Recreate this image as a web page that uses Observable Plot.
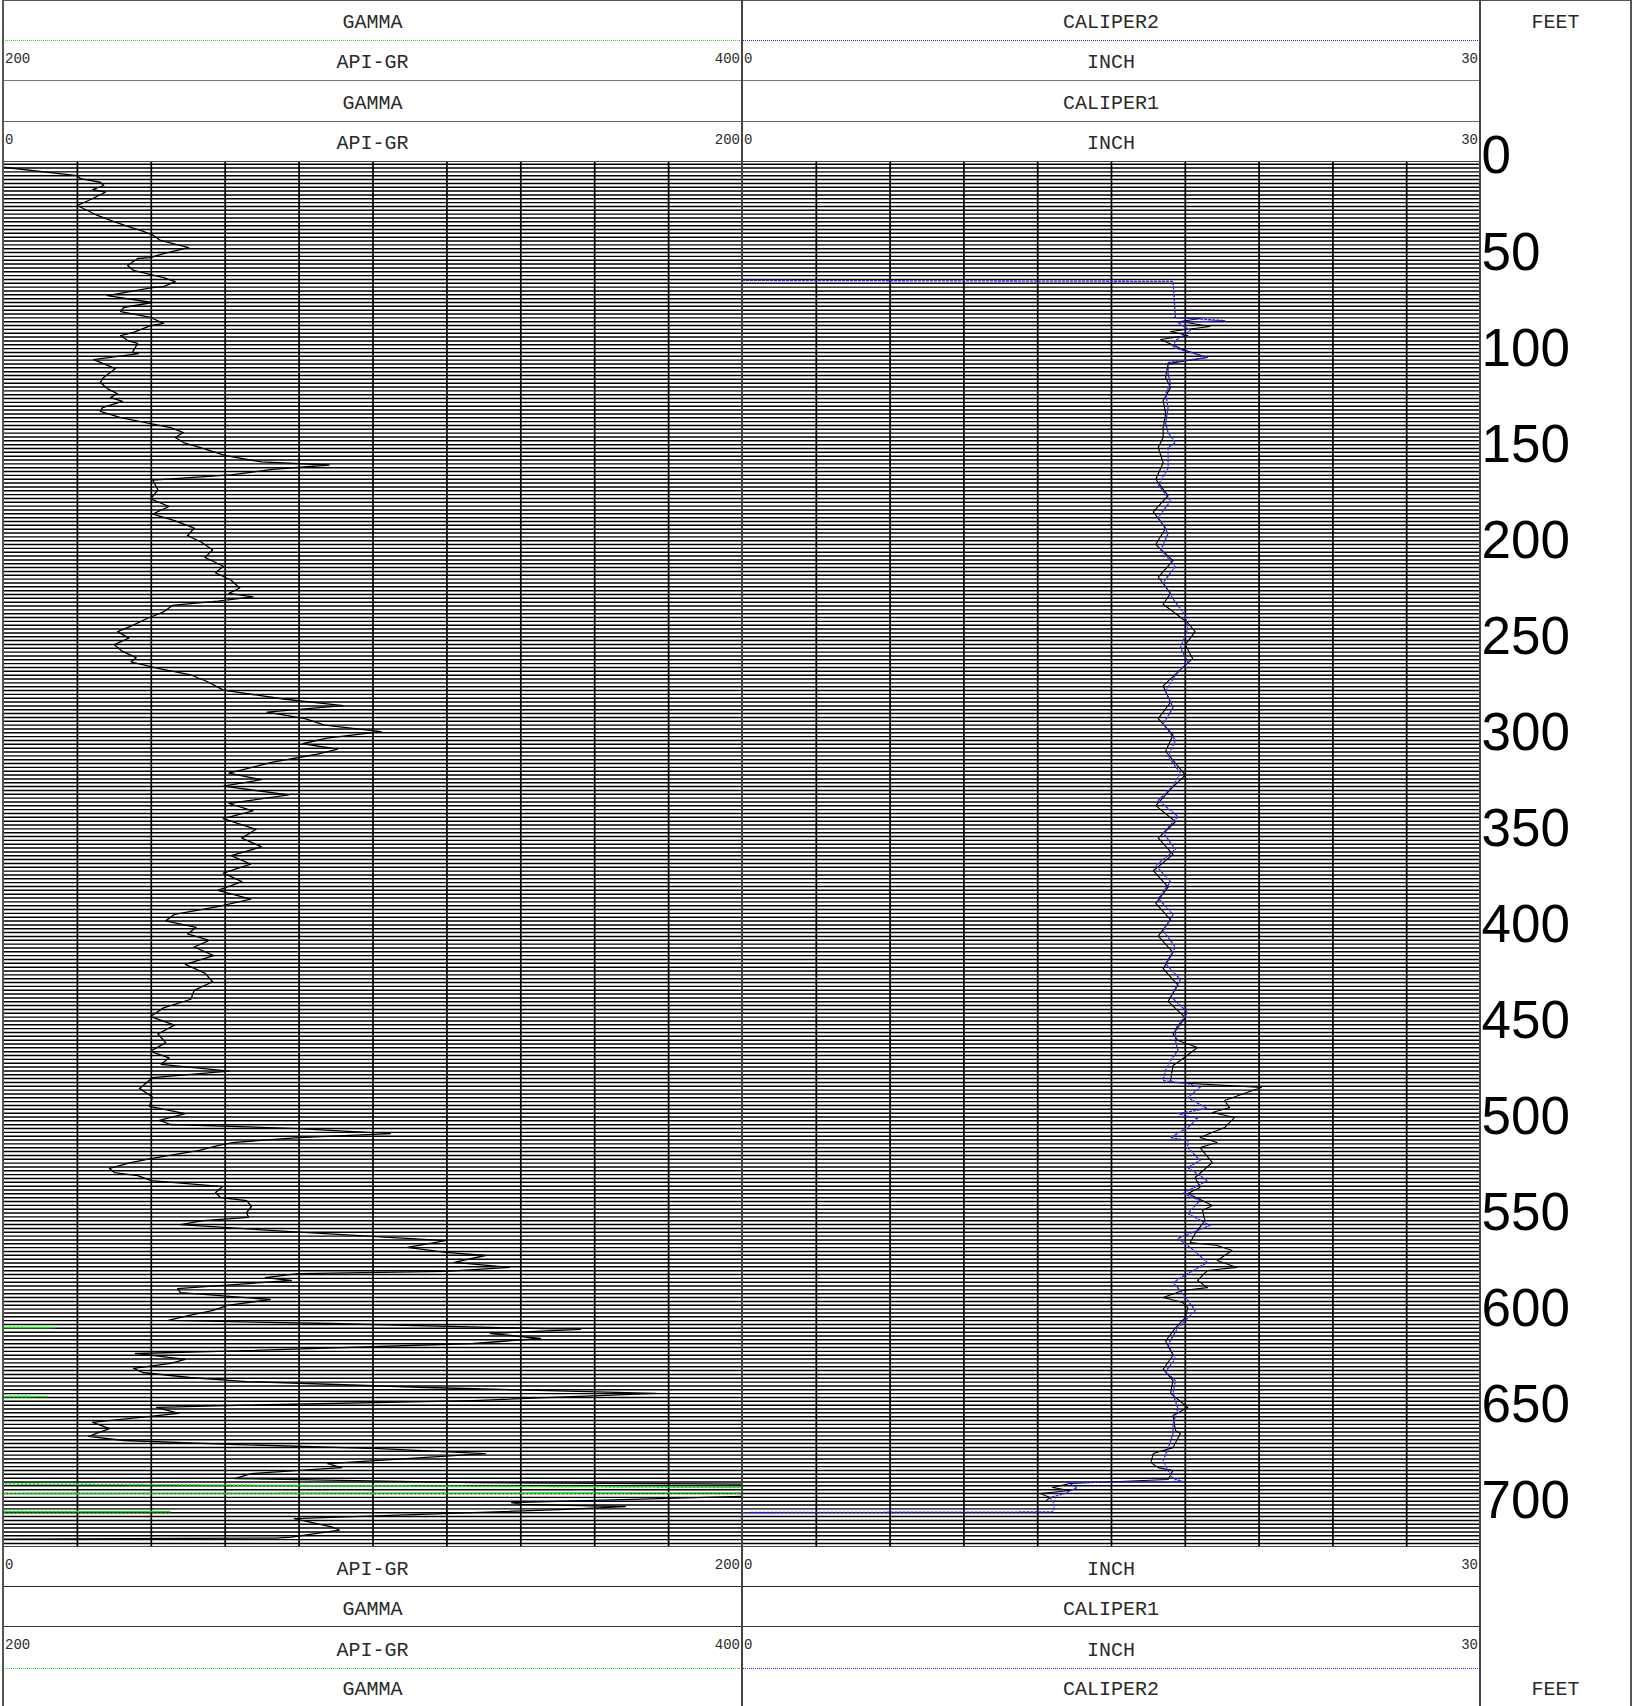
<!DOCTYPE html>
<html><head><meta charset="utf-8">
<script src="https://cdn.jsdelivr.net/npm/d3@7"></script>
<script src="https://cdn.jsdelivr.net/npm/@observablehq/plot@0.6"></script>
<style>
html,body{margin:0;padding:0;background:#fff;overflow:hidden;}
#root{position:relative;width:1632px;height:1706px;overflow:hidden;background:#fff;}
.plot{position:absolute;}
.ln{position:absolute;}
.name{position:absolute;font-family:"Liberation Mono","Courier New",monospace;font-size:20px;color:#2a2a2a;text-align:center;white-space:nowrap;}
.small{position:absolute;font-family:"Liberation Mono","Courier New",monospace;font-size:14px;color:#2a2a2a;white-space:nowrap;}
</style></head><body><div id="root"></div>
<script>
// ---------- data ----------
const depthTicks = [0,50,100,150,200,250,300,350,400,450,500,550,600,650,700];

const gammaDepth = [5.6,9.9,11.5,13.4,15.1,17.2,18.6,22.9,25.5,30.7,33.3,36.4,38.5,41.1,43.7,47.4,50.5,52.6,53.1,56.7,59.3,63.0,65.1,67.7,68.2,72.4,76.0,78.6,80.7,83.8,86.9,88.0,91.6,93.2,95.8,97.3,102.0,102.6,105.7,110.4,115.0,117.6,120.8,123.4,125.5,127.5,130.7,132.7,135.9,139.0,141.1,143.7,146.3,148.9,151.5,155.7,159.0,160.6,162.9,165.7,168.5,173.6,178.2,182.2,186.1,189.5,193.5,197.4,200.8,204.8,208.7,213.3,216.7,220.6,224.6,227.4,229.2,231.4,233.7,237.1,240.5,244.5,247.3,250.7,254.1,257.5,260.9,263.1,266.5,269.9,273.3,277.8,282.4,285.8,289.2,292.6,296.0,299.4,302.8,305.7,308.5,311.3,315.3,321.0,324.4,327.8,332.3,336.8,340.7,344.7,350.3,354.8,359.4,363.9,368.4,373.0,377.5,382.0,386.6,390.5,394.5,397.9,401.3,404.7,408.1,411.5,416.0,420.5,425.1,429.6,434.1,438.7,443.2,447.7,452.2,456.8,461.3,465.8,469.2,472.6,476.1,479.5,485.1,489.7,492.5,494.5,498.2,501.8,503.9,506.0,508.6,510.7,513.3,514.8,517.4,521.1,523.7,526.8,528.9,530.5,533.1,536.2,539.3,541.9,543.5,546.6,549.7,552.3,553.9,556.0,560.1,564.3,567.9,570.5,572.1,575.7,578.3,580.4,581.5,583.6,585.1,587.7,589.3,591.4,595.0,598.1,600.7,603.3,605.9,607.5,610.6,612.7,615.3,617.9,621.6,623.1,626.2,628.3,630.9,633.0,635.6,637.7,640.8,643.9,647.6,650.2,651.2,654.3,659.0,662.2,666.3,668.4,670.5,672.6,675.2,680.4,682.5,685.6,688.2,690.3,691.2,693.5,695.5,697.2,700.7,701.7,702.8,704.4,709.1,713.4,715.0,718.7,719.2,719.7];
const gammaValue = [0,19.9,20.8,26.2,27.1,24.1,27.6,23.0,20.0,25.4,29.0,33.6,37.1,40.6,42.5,50.1,43.3,39.8,36.3,33.6,35.2,43.3,46.5,43.3,40.3,28.1,40.3,32.5,31.7,39.8,43.3,39.8,35.2,31.7,33.6,36.3,34.9,36.5,24.4,30.3,27.1,26.2,28.1,30.8,29.0,32.2,26.8,26.2,31.7,39.8,45.2,48.7,46.5,48.7,53.3,60.1,69.8,88.1,72.8,61.6,40.4,41.8,39.8,44.8,40.4,46.3,51.6,49.8,53.6,56.6,54.5,59.5,57.4,61.6,63.9,61.0,67.5,58.0,45.7,43.3,38.9,34.5,30.9,33.9,30.0,32.1,35.9,34.5,41.8,50.7,55.1,59.5,75.7,91.9,71.3,81.6,86.9,102.2,87.5,81.0,90.4,84.5,72.8,61.0,69.8,59.5,77.2,61.0,67.5,59.5,68.3,64.5,69.8,61.6,66.9,59.5,64.5,58.0,66.9,58.0,46.3,43.9,52.1,49.8,55.7,51.6,56.9,49.2,54.5,56.6,51.6,50.7,43.3,39.8,46.3,41.8,43.9,39.8,44.8,42.7,61.0,40.4,36.8,40.4,39.8,39.5,49.2,42.2,45.2,79.8,104.7,79.8,62.0,58.2,53.0,41.4,34.4,28.7,30.0,36.3,40.0,59.3,57.4,58.7,65.8,67.1,65.8,66.3,54.1,47.9,81.2,119.6,109.3,119.6,130.4,122.0,136.9,119.6,79.8,70.9,77.9,59.3,47.1,47.9,72.2,60.6,56.8,50.3,44.6,88.8,156.1,131.8,145.3,127.2,65.8,35.7,49.2,45.2,35.2,37.6,50.3,65.8,114.5,176.7,127.2,60.6,41.4,47.4,24.1,28.7,23.0,32.5,63.3,101.7,130.4,87.7,91.5,67.1,62.5,127.2,210,300,300,205,137.5,140.2,168.3,150.5,78.7,88.8,90.9,77.9,73.6,0];

const gamma2Depth = [609.45,609.6,609.75,NaN,645.35,645.5,645.65,NaN,691.0,692.9,695.7,696.1,NaN,705.3,705.4,705.5];
const gamma2Value = [195,214,195,NaN,195,212,195,NaN,195,405,405,195,NaN,195,245,195];

const cal1Depth = [83.8,84.3,85.9,88.5,91.1,93.2,95.3,100.5,104.6,107.8,115.0,120.3,127.0,133.8,141.1,146.3,151.5,159.4,168.0,176.5,185.0,193.5,202.0,210.4,218.9,227.4,233.1,242.7,247.3,254.1,261.4,267.1,275.6,284.1,292.6,301.1,309.6,322.0,329.4,337.9,346.3,354.8,363.3,371.8,380.3,388.8,397.3,405.8,414.3,422.8,431.3,439.8,448.3,456.8,460.2,463.8,470.6,473.2,481.0,482.0,484.6,487.2,491.4,495.1,497.7,500.3,505.5,510.7,513.3,515.9,523.7,531.5,536.7,539.8,546.1,548.7,553.9,560.6,565.3,566.9,569.5,574.7,578.3,579.9,585.1,588.8,590.3,594.0,596.6,599.2,604.4,609.8,616.6,624.0,631.3,637.2,643.9,651.2,655.4,663.2,664.8,672.1,675.2,679.9,682.5,684.0,688.7,690.8,692.9,694.4,696.0,698.1,700.2];
const cal1Value = [17.5,18.6,17.8,19.0,17.4,18.1,17.0,17.9,18.9,17.3,17.2,17.4,17.1,17.2,17.1,17.1,16.9,17.1,16.8,17.3,16.7,17.2,16.8,17.5,16.9,17.4,17.1,18.1,18.4,18.0,18.3,17.8,17.1,17.4,16.9,17.5,17.2,18.0,17.4,16.8,17.6,16.9,17.5,16.7,17.3,16.8,17.4,16.9,17.5,17.1,17.7,17.3,18.0,17.5,17.7,18.5,17.8,17.5,17.4,17.5,21.1,20.5,19.6,19.8,19.1,20.0,19.6,18.6,19.3,18.6,19.1,18.4,18.6,18.1,19.1,18.7,18.8,18.4,18.2,19.3,19.9,19.3,20.1,18.9,18.5,18.9,17.9,17.1,17.9,18.1,18.0,17.6,17.2,17.5,17.1,17.5,17.4,18.1,17.5,17.6,17.8,17.5,16.7,16.6,16.9,17.5,17.3,13.3,12.6,13.3,12.1,12.5,12.3];

const cal2Depth = [64.5,65.0,83.8,85.4,86.4,90.6,95.8,99.4,104.6,107.2,113.0,118.2,123.4,130.7,139.0,143.7,148.9,151.5,162.3,170.8,179.3,187.8,196.3,204.8,213.3,221.8,230.3,238.8,246.1,255.7,263.1,269.9,278.4,286.9,295.4,303.9,312.4,320.9,327.7,335.1,343.6,352.1,360.6,369.1,377.6,386.1,394.6,403.1,411.6,420.1,428.6,437.1,445.6,454.1,460.2,465.4,470.6,475.8,481.0,482.6,484.6,489.9,495.6,498.2,500.8,505.5,510.7,512.2,515.9,522.6,526.3,533.1,539.8,543.5,550.2,556.5,563.2,567.9,575.7,581.5,586.2,591.9,600.7,609.8,618.3,625.7,632.5,637.2,643.9,651.8,659.6,664.8,672.6,678.8,684.0,688.2,689.7,690.3,692.9,696.0,698.1,702.2,705.6,705.9];
const cal2Value = [0,17.5,17.6,19.6,17.7,18.2,17.6,17.5,18.9,17.3,17.3,17.4,17.2,17.3,17.2,17.3,17.6,17.3,17.3,16.9,17.4,16.9,17.3,17.0,17.6,17.1,17.5,18.0,18.1,17.8,18.1,17.6,17.2,17.5,17.1,17.6,17.3,17.8,17.5,16.9,17.7,17.1,17.6,16.8,17.4,16.9,17.5,17.1,17.6,17.2,17.8,17.4,18.1,17.6,17.6,17.7,17.4,17.2,17.1,18.1,18.6,18.1,18.9,17.7,18.5,18.1,17.4,18.1,18.1,18.6,18.1,18.9,17.9,18.6,18.1,19.0,17.7,18.2,18.9,18.1,17.5,17.9,18.4,17.7,17.3,17.6,17.2,17.6,17.5,17.7,17.5,17.5,17.3,17.1,17.3,17.5,17.9,13.2,13.6,13.1,12.5,12.7,12.6,0];

const gammaTicks = [20,40,60,80,100,120,140,160,180];
const caliperTicks = [3,6,9,12,15,18,21,24,27];

const topHeader = [
  {gamma:"GAMMA", cal:"CALIPER2", depth:"FEET"},
  {gamma:"API-GR", gl:"200", gr:"400", cal:"INCH", cl:"0", cr:"30"},
  {gamma:"GAMMA", cal:"CALIPER1"},
  {gamma:"API-GR", gl:"0", gr:"200", cal:"INCH", cl:"0", cr:"30"}
];
const bottomHeader = [
  {gamma:"API-GR", gl:"0", gr:"200", cal:"INCH", cl:"0", cr:"30"},
  {gamma:"GAMMA", cal:"CALIPER1"},
  {gamma:"API-GR", gl:"200", gr:"400", cal:"INCH", cl:"0", cr:"30"},
  {gamma:"GAMMA", cal:"CALIPER2", depth:"FEET"}
];

// ---------- layout ----------
const root = document.getElementById("root");
const X0 = 3, X1 = 742, X2 = 1480, X3 = 1631;
const TOP = 162, BOT = 1547;
const PH = BOT - TOP;
const yDomain = [3.12, 724.1];
const gridDepths = d3.range(4, 724.2, 2);

function place(el, left, top) {
  el.classList.add("plot");
  el.style.left = left + "px";
  el.style.top = top + "px";
  root.appendChild(el);
}
function hline(x0, x1, y, color, w, style) {
  const d = document.createElement("div");
  d.className = "ln";
  d.style.left = x0 + "px"; d.style.top = (y - w/2) + "px";
  d.style.width = (x1 - x0) + "px"; d.style.height = "0px";
  d.style.borderTop = w + "px " + (style || "solid") + " " + color;
  root.appendChild(d);
}
function vline(x, y0, y1, color, w) {
  const d = document.createElement("div");
  d.className = "ln";
  d.style.left = (x - w/2) + "px"; d.style.top = y0 + "px";
  d.style.width = w + "px"; d.style.height = (y1 - y0) + "px";
  d.style.background = color;
  root.appendChild(d);
}
function text(cls, str, left, top, width, height, align) {
  const d = document.createElement("div");
  d.className = cls;
  d.textContent = str;
  d.style.left = left + "px"; d.style.top = top + "px";
  d.style.width = width + "px"; d.style.height = height + "px";
  d.style.lineHeight = height + "px";
  d.style.textAlign = align || "center";
  root.appendChild(d);
}

// gamma track
const gammaPlot = Plot.plot({
  width: X1 - X0, height: PH, margin: 0,
  x: {domain: [0, 200], axis: null},
  y: {domain: yDomain, reverse: true, axis: null},
  style: {background: "transparent"},
  marks: [
    Plot.ruleY(gridDepths, {y: d => d, stroke: "#000", strokeWidth: 1.45}),
    Plot.ruleX(gammaTicks, {x: d => d, stroke: "#000", strokeWidth: 1.7}),
    Plot.line(gammaDepth, {x: (d, i) => gammaValue[i], y: d => d, stroke: "#000", strokeWidth: 1.3, clip: true})
  ]
});
place(gammaPlot, X0, TOP);

const gamma2Plot = Plot.plot({
  width: X1 - X0, height: PH, margin: 0,
  x: {domain: [200, 400], axis: null},
  y: {domain: yDomain, reverse: true, axis: null},
  style: {background: "transparent"},
  marks: [
    Plot.line(gamma2Depth, {x: (d, i) => gamma2Value[i], y: d => d, stroke: "#1ee01e", strokeWidth: 1.6, strokeDasharray: "2,2", clip: true})
  ]
});
place(gamma2Plot, X0, TOP);

// caliper track
const calPlot = Plot.plot({
  width: X2 - X1, height: PH, margin: 0,
  x: {domain: [0, 30], axis: null},
  y: {domain: yDomain, reverse: true, axis: null},
  style: {background: "transparent"},
  marks: [
    Plot.ruleY(gridDepths, {y: d => d, stroke: "#000", strokeWidth: 1.45}),
    Plot.ruleX(caliperTicks, {x: d => d, stroke: "#000", strokeWidth: 1.7}),
    Plot.line(cal1Depth, {x: (d, i) => cal1Value[i], y: d => d, stroke: "#000", strokeWidth: 1.1, clip: true}),
    Plot.line(cal2Depth, {x: (d, i) => cal2Value[i], y: d => d, stroke: "#2a2af0", strokeWidth: 1.3, strokeDasharray: "2,2", clip: true})
  ]
});
place(calPlot, X1, TOP);

// depth track labels
const depthPlot = Plot.plot({
  width: X3 - X2, height: 1706, marginTop: TOP, marginBottom: 1706 - BOT, marginLeft: 0, marginRight: 0,
  x: {domain: [0, 1], axis: null},
  y: {domain: yDomain, reverse: true, axis: null},
  style: {background: "transparent", overflow: "visible"},
  marks: [
    Plot.text(depthTicks, {y: d => d, frameAnchor: "left", text: d => String(d), textAnchor: "start", dx: 1,
      fontSize: 53, fontFamily: "Liberation Sans, Arial, sans-serif", fill: "#000"})
  ]
});
place(depthPlot, X2, 0);

// headers
const topRows = [[0, 40.5], [40.5, 81], [81, 121.5], [121.5, 162]];
const botRows = [[1547, 1587], [1587, 1627], [1627, 1668], [1668, 1706]];
function drawHeader(rows, data, shift) {
  rows.forEach(([y0, y1], k) => {
    const h = y1 - y0;
    const r = data[k];
    text("name", r.gamma, X0, y0 + shift, X1 - X0, h);
    text("name", r.cal, X1, y0 + shift, X2 - X1, h);
    if (r.depth) text("name", r.depth, X2, y0 + shift, X3 - X2, h);
    if (r.gl) {
      text("small", r.gl, X0 + 2, y0 - 2, 60, h, "left");
      text("small", r.gr, X1 - 62, y0 - 2, 60, h, "right");
      text("small", r.cl, X1 + 2, y0 - 2, 60, h, "left");
      text("small", r.cr, X2 - 62, y0 - 2, 60, h, "right");
    }
  });
}
drawHeader(topRows, topHeader, 2.5);
drawHeader(botRows, bottomHeader, 2.5);

// separators
hline(X0, X3, 1, "#555", 1.5);
hline(X0, X1, 40.5, "#22dd22", 1, "dotted");
hline(X1, X2, 40.5, "#2a2af0", 1, "dotted");
hline(X0, X2, 81, "#777", 1.5);
hline(X0, X2, 121.5, "#666", 1.5);
hline(X0, X2, TOP, "#444", 1.5);
hline(X0, X2, BOT, "#444", 1.5);
hline(X0, X2, 1587, "#222", 1.5);
hline(X0, X2, 1627, "#333", 1.5);
hline(X0, X1, 1668, "#22dd22", 1, "dotted");
hline(X1, X2, 1668, "#2a2af0", 1, "dotted");
vline(X0, 0, 1706, "#555", 1.5);
vline(X1, 0, 1706, "#444", 1.5);
vline(X2, 0, 1706, "#444", 1.5);
vline(X3, 0, 1706, "#555", 1.5);
</script></body></html>
